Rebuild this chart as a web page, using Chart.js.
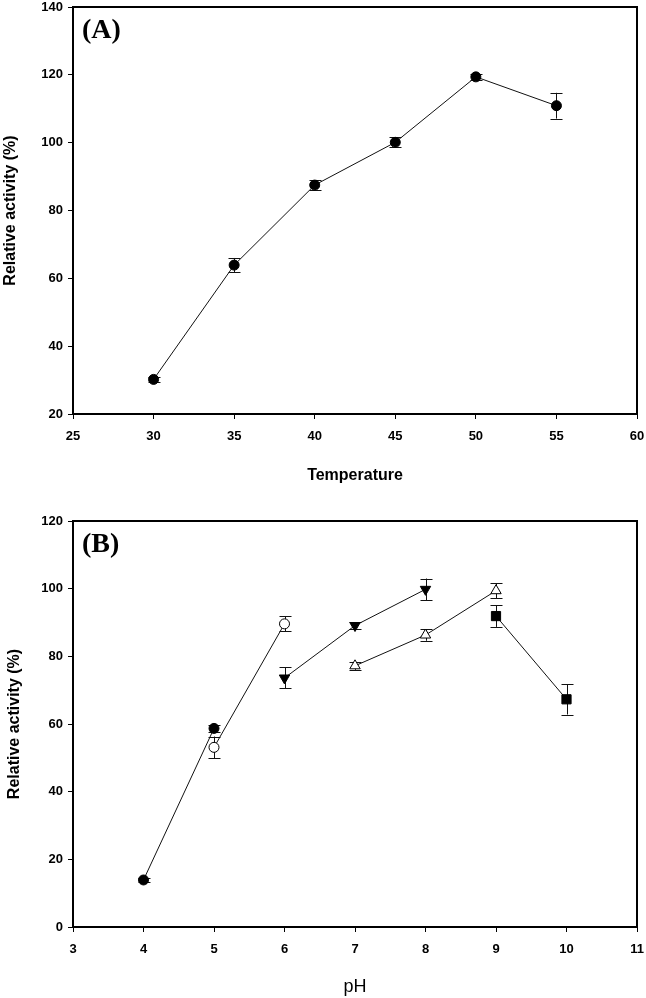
<!DOCTYPE html>
<html>
<head>
<meta charset="utf-8">
<script src="https://cdn.jsdelivr.net/npm/chart.js@4.4.1/dist/chart.umd.min.js"></script>
<style>
  body { margin: 0; background: #fff; width: 646px; height: 998px; position: relative; overflow: hidden; }
  .box { position: absolute; left: 0; width: 646px; }
  #boxA { top: 0; height: 496px; }
  #boxB { top: 500px; height: 498px; }
</style>
</head>
<body>
<div class="box" id="boxA"><canvas id="chartA"></canvas></div>
<div class="box" id="boxB"><canvas id="chartB"></canvas></div>
<script>
// panel A - temperature
const temps = [30, 35, 40, 45, 50, 55]
const tempActivity = [30.2, 63.9, 87.5, 100.1, 119.4, 110.9]
const tempError = [0.7, 2.1, 1.4, 1.5, 0.8, 3.8]
const tempTicks = [25, 30, 35, 40, 45, 50, 55, 60]

// panel B - pH, one series per buffer
const phFilledCircle = [4, 5]
const actFilledCircle = [13.9, 58.7]
const errFilledCircle = [0.6, 1.1]

const phOpenCircle = [5, 6]
const actOpenCircle = [53.1, 89.6]
const errOpenCircle = [3.2, 2.2]

const phDownTri = [6, 7, 8]
const actDownTri = [73.6, 89.1, 99.8]
const errDownTri = [3.1, 1.0, 3.2]

const phUpTri = [7, 8, 9]
const actUpTri = [77.2, 86.3, 99.4]
const errUpTri = [1.2, 1.7, 2.2]

const phSquare = [9, 10]
const actSquare = [91.9, 67.3]
const errSquare = [3.2, 4.5]

const phTicks = [3, 4, 5, 6, 7, 8, 9, 10, 11]

function pts(xs, ys) {
    return xs.map((x, i) => ({ x: x, y: ys[i] }))
}

function series(xs, ys, errs, style, filled, radius, rotation = 0) {
    return {
        data: pts(xs, ys),
        errs: errs,
        showLine: true,
        borderColor: '#111',
        borderWidth: 1,
        pointStyle: style,
        pointRadius: radius,
        pointRotation: rotation,
        pointBackgroundColor: filled ? '#000' : '#fff',
        pointBorderColor: '#000',
        pointBorderWidth: 1
    }
}

// vertical error bars with caps
const errorBars = {
    id: 'errorBars',
    beforeDatasetsDraw(chart) {
        const ctx = chart.ctx
        const xs = chart.scales.x
        const ys = chart.scales.y
        ctx.save()
        ctx.strokeStyle = '#111'
        ctx.lineWidth = 1
        chart.data.datasets.forEach(ds => {
            ds.data.forEach((p, i) => {
                const e = ds.errs[i]
                const px = Math.round(xs.getPixelForValue(p.x)) + 0.5
                const y1 = ys.getPixelForValue(p.y + e)
                const y2 = ys.getPixelForValue(p.y - e)
                ctx.beginPath()
                ctx.moveTo(px, y1); ctx.lineTo(px, y2)
                ctx.moveTo(px - 6, Math.round(y1) + 0.5); ctx.lineTo(px + 6, Math.round(y1) + 0.5)
                ctx.moveTo(px - 6, Math.round(y2) + 0.5); ctx.lineTo(px + 6, Math.round(y2) + 0.5)
                ctx.stroke()
            })
        })
        ctx.restore()
    }
}

// closes the frame on top and right, draws the panel tag
const frame = {
    id: 'frame',
    afterDraw(chart, args, opts) {
        const { ctx, chartArea: a } = chart
        ctx.save()
        ctx.strokeStyle = '#000'
        ctx.lineWidth = 2
        ctx.beginPath()
        ctx.moveTo(a.left, a.top); ctx.lineTo(a.right, a.top); ctx.lineTo(a.right, a.bottom)
        ctx.stroke()
        ctx.fillStyle = '#000'
        ctx.font = 'bold 28px "Liberation Serif"'
        ctx.textBaseline = 'alphabetic'
        ctx.fillText(opts.tag, a.left + 9, a.top + 31)
        ctx.restore()
    }
}

const tickFont = { family: 'Liberation Sans', size: 13, weight: 'bold' }

function makeChart(id, datasets, opt) {
    return new Chart(document.getElementById(id), {
        type: 'scatter',
        data: { datasets: datasets },
        options: {
            responsive: true,
            maintainAspectRatio: false,
            animation: false,
            layout: { padding: { top: opt.top, right: 9, left: 0, bottom: 0 } },
            plugins: {
                legend: { display: false },
                tooltip: { enabled: false },
                frame: { tag: opt.tag }
            },
            scales: {
                x: {
                    type: 'linear',
                    min: opt.xTicks[0],
                    max: opt.xTicks[opt.xTicks.length - 1],
                    afterBuildTicks: s => { s.ticks = opt.xTicks.map(v => ({ value: v })) },
                    afterFit: s => {
                        s.height = opt.xHeight
                        s.paddingLeft = 0
                        s.paddingRight = 0
                    },
                    border: { display: true, color: '#000', width: 2 },
                    grid: { drawOnChartArea: false, drawTicks: true, tickLength: 5, color: '#000' },
                    ticks: { color: '#000', font: tickFont, padding: 10, maxRotation: 0 },
                    title: { display: true, text: opt.xTitle, color: '#000', font: opt.xTitleFont, padding: { top: 0, bottom: opt.xTitlePad } }
                },
                y: {
                    min: opt.yMin,
                    max: opt.yMax,
                    ticks: { stepSize: 20, color: '#000', font: tickFont, padding: 5 },
                    afterFit: s => {
                        s.width = 73
                        s.paddingTop = 0
                        s.paddingBottom = 0
                    },
                    border: { display: true, color: '#000', width: 2 },
                    grid: { drawOnChartArea: false, drawTicks: true, tickLength: 5, color: '#000' },
                    title: { display: true, text: 'Relative activity (%)', color: '#000', font: { family: 'Liberation Sans', size: 16, weight: 'bold' }, padding: { top: opt.yTitlePad, bottom: 0 } }
                }
            }
        },
        plugins: [errorBars, frame]
    })
}

makeChart('chartA', [
    series(temps, tempActivity, tempError, 'circle', true, 5)
], {
    tag: '(A)', top: 7, xHeight: 82, xTicks: tempTicks, yMin: 20, yMax: 140,
    xTitle: 'Temperature', xTitleFont: { family: 'Liberation Sans', size: 16, weight: 'bold' }, xTitlePad: 11,
    yTitlePad: 1
})

makeChart('chartB', [
    series(phFilledCircle, actFilledCircle, errFilledCircle, 'circle', true, 5),
    series(phOpenCircle, actOpenCircle, errOpenCircle, 'circle', false, 5),
    series(phDownTri, actDownTri, errDownTri, 'triangle', true, 6, 180),
    series(phUpTri, actUpTri, errUpTri, 'triangle', false, 6),
    series(phSquare, actSquare, errSquare, 'rect', true, 6.5)
], {
    tag: '(B)', top: 21, xHeight: 71, xTicks: phTicks, yMin: 0, yMax: 120,
    xTitle: 'pH', xTitleFont: { family: 'Liberation Sans', size: 18, weight: 'normal' }, xTitlePad: 0,
    yTitlePad: 5
})
</script>
</body>
</html>
